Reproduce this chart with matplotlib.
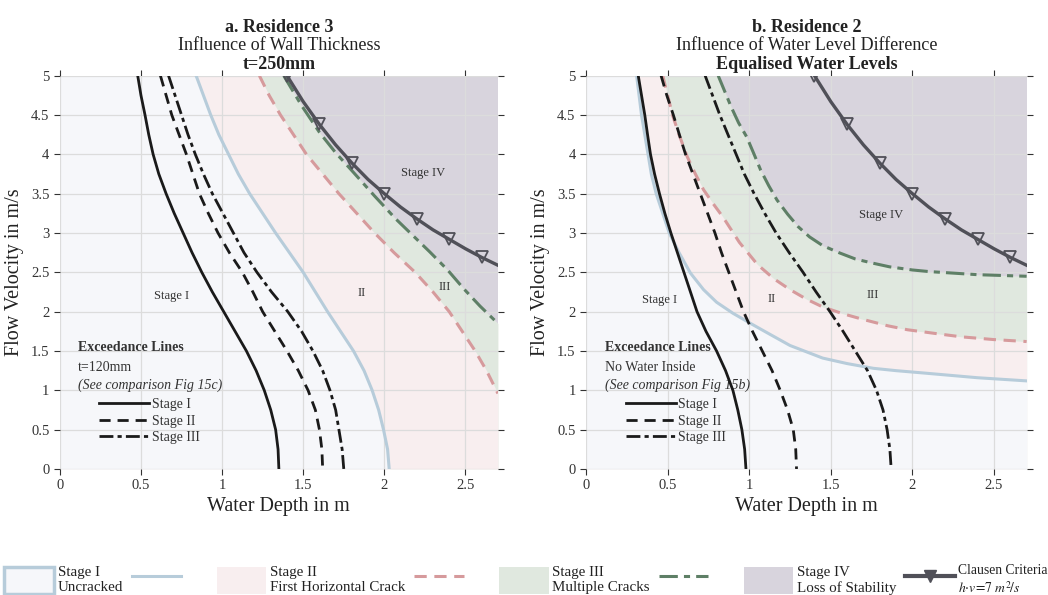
"""
Damage stage charts: flow velocity against water depth for two residences.
"""

import matplotlib.pyplot as plt
from matplotlib.lines import Line2D
from matplotlib.patches import Patch
from matplotlib.ticker import FormatStrFormatter

plt.rcParams["font.family"] = ["Liberation Serif", "DejaVu Serif"]
plt.rcParams["mathtext.fontset"] = "stix"

# ---------------- a. Residence 3 (water depth h read at flow velocity v) ----------------
a_v = [5.0, 4.75, 4.5, 4.25, 4.0, 3.75, 3.5, 3.25, 3.0, 2.75, 2.5,
       2.25, 2.0, 1.75, 1.5, 1.25, 1.0, 0.75, 0.5, 0.25, 0.0]
a_h_blue = [0.84, 0.885, 0.93, 0.98, 1.04, 1.10, 1.17, 1.25, 1.33, 1.415, 1.50,
            1.575, 1.65, 1.73, 1.81, 1.875, 1.925, 1.965, 1.995, 2.02, 2.03]
a_h_ex1 = [0.48, 0.50, 0.525, 0.548, 0.575, 0.61, 0.655, 0.705, 0.76, 0.815, 0.875,
           0.94, 1.01, 1.08, 1.15, 1.21, 1.26, 1.30, 1.33, 1.345, 1.35]
a_h_ex2 = [0.62, 0.655, 0.69, 0.735, 0.78, 0.82, 0.86, 0.915, 0.975, 1.045, 1.125,
           1.19, 1.25, 1.325, 1.40, 1.47, 1.53, 1.575, 1.60, 1.615, 1.62]
a_h_ex3 = [0.67, 0.71, 0.75, 0.79, 0.835, 0.885, 0.94, 1.005, 1.07, 1.135, 1.215,
           1.305, 1.405, 1.49, 1.56, 1.62, 1.665, 1.70, 1.72, 1.74, 1.75]
a_v_pink = [5.0, 4.75, 4.5, 4.25, 4.0, 3.75, 3.5, 3.25, 3.0, 2.75, 2.5,
            2.25, 2.0, 1.75, 1.5, 1.25, 0.96]
a_h_pink = [1.23, 1.29, 1.36, 1.44, 1.52, 1.62, 1.72, 1.83, 1.94, 2.06, 2.19,
            2.30, 2.40, 2.48, 2.56, 2.63, 2.70]
a_v_green = [5.0, 4.62, 4.28, 4.02, 3.77, 3.47, 3.18, 2.96, 2.76, 2.53, 2.29, 2.07, 1.85]
a_h_green = [1.38, 1.49, 1.60, 1.70, 1.81, 1.94, 2.07, 2.18, 2.28, 2.39, 2.49, 2.59, 2.70]

# ---------------- b. Residence 2 ----------------
b_v_blue = [5.0, 4.75, 4.5, 4.25, 4.0, 3.75, 3.5, 3.25, 3.0, 2.75, 2.49, 2.28, 2.12,
            1.98, 1.86, 1.72, 1.57, 1.41, 1.34, 1.28, 1.25, 1.22, 1.16, 1.12]
b_h_blue = [0.31, 0.325, 0.34, 0.36, 0.38, 0.40, 0.43, 0.47, 0.51, 0.57, 0.64, 0.72, 0.80,
            0.90, 1.0, 1.12, 1.25, 1.45, 1.6, 1.76, 1.9, 2.07, 2.4, 2.70]
b_v_pink = [5.0, 4.75, 4.5, 4.25, 3.97, 3.75, 3.55, 3.37, 3.2, 2.88, 2.6, 2.42,
            2.28, 2.16, 2.06, 1.97, 1.90, 1.82, 1.77, 1.72, 1.68, 1.645, 1.62]
b_h_pink = [0.47, 0.50, 0.53, 0.57, 0.62, 0.67, 0.72, 0.78, 0.84, 0.94, 1.05, 1.15,
            1.25, 1.35, 1.45, 1.58, 1.70, 1.85, 1.97, 2.15, 2.30, 2.5, 2.70]
b_v_green = [5.0, 4.8, 4.6, 4.4, 4.22, 4.0, 3.8, 3.6, 3.42, 3.24, 3.08, 2.95,
             2.84, 2.75, 2.67, 2.62, 2.57, 2.53, 2.51, 2.49, 2.47, 2.46, 2.45]
b_h_green = [0.81, 0.85, 0.89, 0.935, 0.985, 1.03, 1.07, 1.12, 1.17, 1.235, 1.30, 1.37,
             1.45, 1.55, 1.65, 1.75, 1.86, 2.0, 2.1, 2.25, 2.4, 2.55, 2.70]
b_v = [5.0, 4.75, 4.5, 4.25, 4.0, 3.75, 3.5, 3.25, 3.0, 2.75, 2.5,
       2.25, 2.0, 1.75, 1.5, 1.25, 1.0, 0.75, 0.5, 0.25, 0.0]
b_h_ex1 = [0.32, 0.34, 0.36, 0.377, 0.395, 0.42, 0.45, 0.483, 0.52, 0.56, 0.60,
           0.64, 0.68, 0.735, 0.80, 0.855, 0.90, 0.93, 0.955, 0.972, 0.98]
b_h_ex2 = [0.46, 0.495, 0.535, 0.572, 0.61, 0.655, 0.70, 0.745, 0.79, 0.83, 0.875,
           0.92, 0.965, 1.02, 1.08, 1.14, 1.19, 1.235, 1.27, 1.285, 1.29]
b_h_ex3 = [0.73, 0.775, 0.82, 0.87, 0.92, 0.97, 1.03, 1.095, 1.165, 1.245, 1.33,
           1.41, 1.495, 1.575, 1.65, 1.725, 1.78, 1.82, 1.845, 1.862, 1.87]

# Clausen criterion h*v = 7 m2/s
clausen_h = [1.4, 1.5, 1.6, 1.7, 1.8, 1.9, 2.0, 2.1, 2.2, 2.3, 2.4, 2.5, 2.6, 2.7]
clausen_v = [5.0, 4.67, 4.38, 4.12, 3.89, 3.68, 3.5, 3.33, 3.18, 3.04, 2.92, 2.8, 2.69, 2.59]

x_ticks = [0, 0.5, 1, 1.5, 2, 2.5]
y_ticks = [0, 0.5, 1, 1.5, 2, 2.5, 3, 3.5, 4, 4.5, 5]
x_max = 2.7
y_max = 5

# colours
c_fill_1 = "#f6f7fa"
c_fill_2 = "#f8eeef"
c_fill_3 = "#e0e8df"
c_fill_4 = "#d8d4dd"
c_blue = "#b7ccda"
c_pink = "#d69a9c"
c_green = "#5e7f66"
c_clausen = "#505058"
c_text = "#222222"

ls_dash = (0, (4, 2.5))
ls_dashdot = (0, (5, 1.5, 1.5, 1.5))
ls_green = (0, (6, 2, 2, 2))


def fill_left_of(ax, v, h, color):
    # close the region along the right edge if the curve leaves the axes there
    v = list(v)
    h = list(h)
    if v[-1] > 0:
        v.append(0)
        h.append(x_max)
    ax.fill_betweenx(v, 0, h, color=color, lw=0, zorder=1)


def draw_panel(ax, blue, pink, green, exceed):
    ax.set_facecolor(c_fill_4)
    fill_left_of(ax, *green, c_fill_3)
    fill_left_of(ax, *pink, c_fill_2)
    fill_left_of(ax, *blue, c_fill_1)

    ax.plot(blue[1], blue[0], color=c_blue, lw=2.2, zorder=3)
    ax.plot(pink[1], pink[0], color=c_pink, lw=2.2, ls=ls_dash, zorder=3)
    ax.plot(green[1], green[0], color=c_green, lw=2.2, ls=ls_green, zorder=3)

    styles = ["-", ls_dash, ls_dashdot]
    for (v, h), ls in zip(exceed, styles):
        ax.plot(h, v, color="#1a1a1a", lw=2.0, ls=ls, zorder=4)

    ax.plot(clausen_h, clausen_v, color=c_clausen, lw=2.4, marker="v",
            markersize=9, markerfacecolor="none", markeredgewidth=1.3,
            markevery=2, zorder=5)

    ax.set_xlim(0, x_max)
    ax.set_ylim(0, y_max)
    ax.set_xticks(x_ticks)
    ax.set_yticks(y_ticks)
    ax.xaxis.set_major_formatter(FormatStrFormatter("%g"))
    ax.yaxis.set_major_formatter(FormatStrFormatter("%g"))
    ax.set_axisbelow("line")
    ax.grid(True, color="#dcdcdc", lw=0.9)
    for s in ax.spines.values():
        s.set_visible(False)
    ax.tick_params(direction="out", length=4, width=0.8, top=True, right=True,
                   color="#333333", labelsize=10.5, labelcolor="#333333")
    ax.set_xlabel("Water Depth in m", fontsize=14.5, labelpad=3, color=c_text)
    ax.set_ylabel("Flow Velocity in m/s", fontsize=14.5, labelpad=5, color=c_text)

    ax.legend(handles=[Line2D([], [], color="#1a1a1a", lw=2.0, ls=s) for s in styles],
              labels=["Stage I", "Stage II", "Stage III"], loc="upper left",
              bbox_to_anchor=(0.09, 0.18), frameon=False, fontsize=10,
              handlelength=3.6, handletextpad=0.2, labelspacing=0.25,
              borderpad=0, borderaxespad=0, labelcolor="#333333")


def titles(ax, line1, line2, line3):
    ax.text(0.5, 1.112, line1, transform=ax.transAxes, ha="center",
            va="baseline", fontsize=13, fontweight="bold", color=c_text)
    ax.text(0.5, 1.066, line2, transform=ax.transAxes, ha="center",
            va="baseline", fontsize=13, color=c_text)
    ax.text(0.5, 1.018, line3, transform=ax.transAxes, ha="center",
            va="baseline", fontsize=13, fontweight="bold", color=c_text)


def notes(ax, line2, line3):
    ax.text(0.042, 0.31, "Exceedance Lines", transform=ax.transAxes,
            va="center", fontsize=10, fontweight="bold", color="#333333", zorder=2)
    ax.text(0.042, 0.257, line2, transform=ax.transAxes, va="center",
            fontsize=10, color="#333333", zorder=2)
    ax.text(0.042, 0.212, line3, transform=ax.transAxes, va="center",
            fontsize=10, style="italic", color="#333333", zorder=2)


fig = plt.figure(figsize=(10.48, 5.95), dpi=100)
ax_a = fig.add_axes([0.0571, 0.2118, 0.418, 0.661])
ax_b = fig.add_axes([0.5592, 0.2118, 0.4204, 0.661])

draw_panel(ax_a, (a_v, a_h_blue), (a_v_pink, a_h_pink), (a_v_green, a_h_green),
           [(a_v, a_h_ex1), (a_v, a_h_ex2), (a_v, a_h_ex3)])
draw_panel(ax_b, (b_v_blue, b_h_blue), (b_v_pink, b_h_pink), (b_v_green, b_h_green),
           [(b_v, b_h_ex1), (b_v, b_h_ex2), (b_v, b_h_ex3)])

titles(ax_a, "a. Residence 3", "Influence of Wall Thickness", "t=250mm")
titles(ax_b, "b. Residence 2", "Influence of Water Level Difference",
       "Equalised Water Levels")
notes(ax_a, "t=120mm", "(See comparison Fig 15c)")
notes(ax_b, "No Water Inside", "(See comparison Fig 15b)")

lab = dict(fontsize=9, color="#333333", ha="center", va="center", zorder=6)
ax_a.text(2.24, 3.76, "Stage IV", **lab)
ax_a.text(1.86, 2.24, "II", **lab)
ax_a.text(2.37, 2.31, "III", **lab)
ax_a.text(0.69, 2.20, "Stage I", **lab)
ax_b.text(1.81, 3.23, "Stage IV", **lab)
ax_b.text(1.14, 2.16, "II", **lab)
ax_b.text(1.76, 2.21, "III", **lab)
ax_b.text(0.45, 2.15, "Stage I", **lab)

# bottom legend: box, text, line for every stage
pad = "      "
handles = [
    Patch(facecolor=c_fill_1, edgecolor=c_blue, lw=2.5),
    Line2D([], [], color=c_blue, lw=2.2),
    Patch(facecolor=c_fill_2, lw=0),
    Line2D([], [], color=c_pink, lw=2.2, ls=ls_dash),
    Patch(facecolor=c_fill_3, lw=0),
    Line2D([], [], color=c_green, lw=2.2, ls=ls_green),
    Patch(facecolor=c_fill_4, lw=0),
    Line2D([], [], color=c_clausen, lw=3, marker="v", markersize=8,
           markerfacecolor=c_clausen),
]
labels = [
    "Stage I\nUncracked", pad,
    "Stage II\nFirst Horizontal Crack", pad,
    "Stage III\nMultiple Cracks", pad,
    "Stage IV\nLoss of Stability",
    "Clausen Criteria\n$h{\\cdot}v\\!=\\!7\\ m^2\\!/s$",
]
leg = fig.legend(handles=handles, labels=labels, ncol=8, loc="upper left",
                 bbox_to_anchor=(-0.003, 0.064), frameon=False, fontsize=10.8,
                 handlelength=3.3, handleheight=2.3, handletextpad=0.25,
                 columnspacing=0.6, borderpad=0, labelcolor=c_text)
leg.get_texts()[-1].set_fontsize(9.8)

fig.savefig("out.png", dpi=100)
